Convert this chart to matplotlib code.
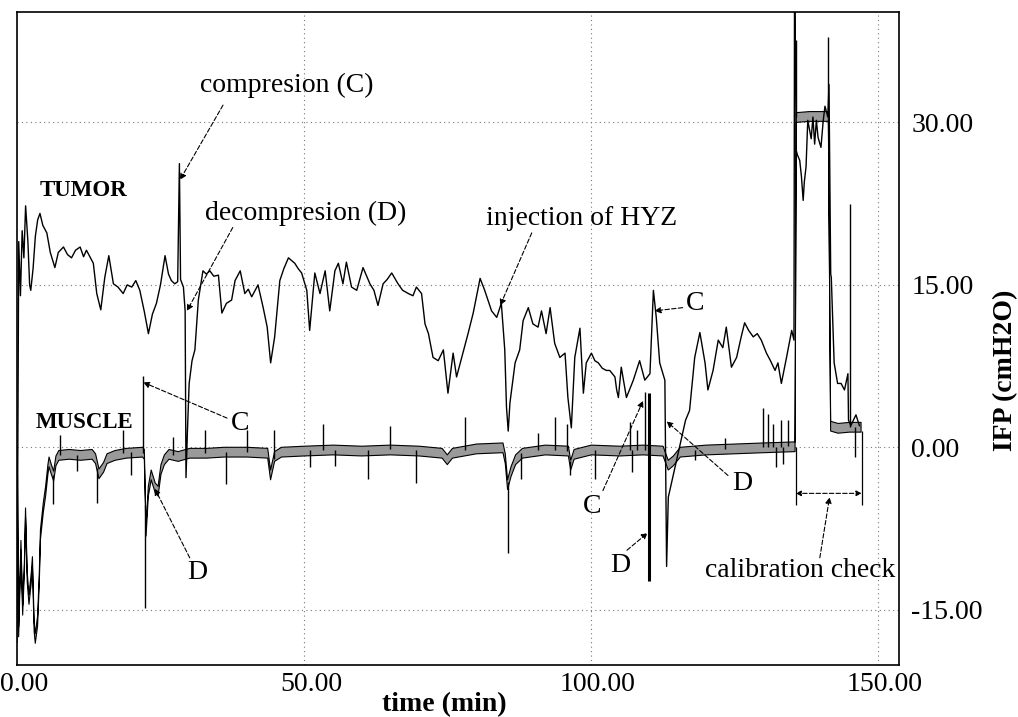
import numpy as np
import matplotlib
matplotlib.use("Agg")
import matplotlib.pyplot as plt
from matplotlib.transforms import ScaledTranslation

plt.rcParams['font.family'] = ['Liberation Serif', 'DejaVu Serif']

# tumor IFP trace (time in min, value in cmH2O)
tumor_t = [0.0, 0.3, 0.6, 0.9, 1.2, 1.5, 1.9, 2.2, 2.4, 2.8, 3.2, 3.6, 4.0, 4.5, 5.2,
           5.8, 6.6, 7.2, 8.1, 8.8, 9.5, 10.2, 11.0, 11.6, 12.1, 12.7, 13.3, 13.9, 14.6,
           15.3, 16.0, 16.8, 17.6, 18.5, 19.2, 20.0, 20.7, 21.4, 22.2, 22.9, 23.6, 24.3,
           25.0, 25.8, 26.4, 26.9, 27.5, 28.0, 28.3, 28.5, 29.0, 29.3, 29.45, 29.7, 30.0,
           30.5, 31.0, 31.6, 32.4, 33.0, 33.6, 34.3, 35.1, 35.7, 36.5, 37.4, 38.0, 38.9,
           39.7, 40.3, 40.9, 41.5, 42.0, 42.9, 43.6, 44.2, 44.9, 45.8, 46.5, 47.3, 48.4,
           49.0, 49.6, 50.5, 51.0, 51.9, 52.8, 53.7, 54.5, 55.4, 56.0, 56.8, 57.4, 58.3,
           59.2, 60.3, 61.5, 62.2, 62.9, 63.8, 64.5, 65.3, 66.4, 67.2, 68.2, 69.0, 69.6,
           70.5, 71.1, 71.7, 72.5, 73.4, 74.3, 75.1, 76.0, 76.6, 77.5, 78.6, 79.5, 80.7,
           81.5, 82.7, 83.6, 84.4, 85.0, 85.3, 85.6, 85.9, 86.8, 87.6, 88.2, 89.1, 89.9,
           90.8, 91.4, 92.2, 92.9, 93.7, 94.6, 95.5, 96.0, 96.6, 97.2, 98.1, 98.7, 99.2,
           100.1, 100.7, 101.3, 102.0, 102.7, 103.3, 104.2, 104.5, 104.8, 105.3, 106.2,
           107.4, 108.5, 109.4, 110.3, 110.9, 111.4, 112.0, 112.9, 113.2, 113.5, 114.6,
           115.6, 116.5, 117.2, 118.1, 119.0, 119.9, 120.4, 121.3, 122.2, 123.0, 123.6,
           124.5, 125.4, 126.2, 126.8, 127.5, 128.3, 129.0, 129.7, 130.6, 131.3, 132.1,
           132.6, 133.2, 134.1, 135.0, 135.4, 135.5, 135.8, 136.0, 136.4, 136.7, 137.0,
           137.2, 137.5, 137.8, 138.4, 138.7, 139.0, 139.3, 139.6, 140.1, 140.5, 140.8,
           141.3, 141.5, 141.8, 141.9, 142.1, 142.4, 143.0, 143.6, 144.2, 144.8, 144.9,
           145.3, 146.2, 146.8]
tumor_v = [-18.0, 19.0, 14.0, 20.0, 17.5, 22.3, 19.0, 15.0, 14.5, 16.5, 19.5, 21.0, 21.6, 20.5, 19.8,
           18.0, 16.6, 18.0, 18.5, 17.8, 17.5, 18.2, 18.5, 17.6, 18.2, 17.6, 17.0, 14.2, 12.7,
           15.7, 17.7, 15.1, 14.8, 14.2, 15.0, 14.8, 15.4, 14.5, 12.5, 10.5, 12.3, 13.3,
           15.0, 17.7, 16.0, 15.4, 15.1, 15.3, 26.2, 15.5, 14.8, 12.6, -2.8, 1.5, 5.9,
           8.0, 9.0, 13.6, 16.3, 16.0, 16.3, 15.8, 15.9, 12.4, 13.3, 13.6, 15.4, 16.3,
           14.2, 14.6, 13.9, 14.5, 15.0, 12.9, 11.1, 7.8, 10.2, 15.4, 16.5, 17.5, 17.0,
           16.5, 16.1, 14.5, 10.8, 16.1, 14.2, 16.3, 12.6, 16.3, 17.0, 15.1, 17.1, 14.8,
           14.5, 16.6, 15.1, 14.5, 13.1, 15.1, 15.5, 16.1, 15.1, 14.5, 14.2, 14.0, 14.8,
           14.2, 11.4, 10.5, 8.3, 8.0, 9.0, 5.0, 8.7, 6.5, 8.3, 10.5, 12.4, 15.6,
           14.5, 12.6, 12.0, 13.3, 9.0, 3.7, 1.5, 4.1, 7.8, 9.0, 11.7, 12.9, 11.4,
           11.1, 12.6, 10.5, 12.9, 9.6, 8.3, 8.7, 4.6, 1.8, 8.3, 11.0, 5.0, 7.8,
           8.7, 8.0, 7.8, 7.3, 7.1, 7.1, 6.5, 5.3, 4.6, 7.4, 4.6,
           6.2, 8.0, 6.2, 6.8, 14.5, 12.0, 7.8, 6.2, -11.0, -4.6, -2.0,
           0.4, 2.5, 3.4, 8.3, 10.6, 7.8, 5.3, 7.1, 9.9, 9.2, 11.1,
           7.4, 8.3, 10.2, 11.5, 10.8, 10.2, 10.5, 9.9, 8.7, 8.0, 7.1,
           7.8, 5.9, 8.3, 10.8, 9.9, 45.0, 27.4, 27.0, 26.5, 25.0, 22.8,
           24.5, 25.9, 30.2, 28.5, 30.5, 28.0, 30.2, 28.6, 27.7, 30.2, 31.5,
           30.5, 33.5, 16.0, 15.7, 12.6, 7.8, 5.9, 5.9, 5.3, 6.8, 2.5,
           2.0, 3.0, 2.0]

# muscle IFP: middle of the grey band
muscle_t = [0.0, 0.2, 0.6, 0.9, 1.2, 1.4, 1.7, 2.0, 2.4, 2.6, 2.9, 3.1, 3.5, 3.8, 4.0,
            4.5, 4.9, 5.3, 5.5, 5.9, 6.3, 6.7, 7.2, 9.0, 11.0, 13.0, 13.6, 14.2, 15.0,
            15.6, 17.0, 19.0, 21.8, 22.1, 22.4, 22.8, 23.3, 24.0, 24.5, 25.0, 25.6, 26.4,
            28.0, 30.0, 33.0, 36.0, 40.0, 43.6, 44.1, 44.8, 46.0, 50.0, 55.0, 60.0, 65.0,
            70.0, 74.0, 74.9, 75.8, 80.0, 84.6, 85.0, 85.4, 86.0, 86.8, 88.0, 92.0, 96.0,
            96.4, 97.0, 100.0, 105.0, 109.0, 112.5, 113.4, 114.3, 115.5, 120.0, 125.0,
            130.0, 135.5, 135.7, 138.0, 141.3, 141.7, 143.0, 145.0, 147.0]
muscle_v = [-3.0, -17.0, -9.0, -15.0, -11.0, -6.0, -12.0, -14.0, -12.0, -10.5, -16.5, -17.6, -16.0, -12.0, -8.0,
            -5.5, -4.0, -2.0, -1.3, -2.0, -2.6, -1.2, -0.7, -0.6, -0.7, -0.6, -1.0, -2.4, -1.8,
            -1.0, -0.7, -0.5, -0.4, -0.6, -7.7, -4.0, -2.5, -3.7, -4.0, -2.0, -1.1, -0.6,
            -0.8, -0.5, -0.5, -0.4, -0.4, -0.5, -2.5, -0.8, -0.4, -0.3, -0.2, -0.3, -0.2,
            -0.3, -0.5, -1.1, -0.5, -0.1, 0.0, -1.0, -3.4, -2.2, -1.1, -0.5, -0.2, -0.3,
            -1.6, -0.6, -0.2, -0.3, -0.2, -0.3, -1.6, -1.2, -0.4, -0.2, -0.1,
            0.0, 0.1, 30.5, 30.6, 30.6, 2.0, 1.8, 1.9, 1.9]

# short spikes on the muscle trace (time, peak value)
spike_t = [7.5, 18.5, 27.2, 32.8, 40.0, 44.7, 53.4, 65.0, 78.0, 90.8, 93.7, 95.8,
           106.8, 108.0, 109.4, 123.3, 130.0, 130.9, 131.8, 133.1, 134.4, 22.0,
           6.3, 10.4, 14.0, 19.9, 22.3, 36.5, 51.0, 55.4, 61.2, 69.6, 85.5, 87.9,
           96.3, 100.7, 107.2, 118.1, 132.3, 133.4, 146.0, 145.1, 135.7, 141.3]
spike_v = [1.1, 1.6, 1.0, 1.6, 1.6, 1.6, 2.2, 2.0, 2.8, 1.3, 2.8, 2.2,
           2.3, 1.6, 5.1, 0.9, 3.6, 3.1, 2.2, 2.5, 2.5, 6.6,
           -5.2, -2.2, -5.1, -2.6, -14.8, -3.4, -1.8, -1.7, -2.9, -3.3, -9.8, -2.9,
           -2.6, -2.9, -2.3, -1.2, -1.8, -1.5, -0.9, 22.5, 37.6, 37.9]
# the thick decompression spike at ~110 min
dspike_t = [110.2]
dspike_lo = [-12.3]
dspike_hi = [5.0]

xticks = [0, 50, 100, 150]
yticks = [-15, 0, 15, 30]

fig = plt.figure(figsize=(10.18, 7.17), dpi=100)
ax = fig.add_axes([17 / 1018, 1 - 665 / 717, 882 / 1018, 653 / 717])
ax.set_xlim(0, 153.7)
ax.set_ylim(-20.1, 40.2)

for g in xticks[1:]:
    ax.axvline(g, color='#777777', lw=0.8, ls=(0, (1, 3)), zorder=0)
for g in yticks:
    ax.axhline(g, color='#777777', lw=0.8, ls=(0, (1, 3)), zorder=0)

# muscle: grey band with black edges
mt = np.array(muscle_t)
mv = np.array(muscle_v)
w = 0.45
ax.fill_between(mt, mv - w, mv + w, facecolor='#9a9a9a', edgecolor='black', lw=0.8, zorder=2)
base = np.interp(spike_t, mt, mv)
ax.vlines(spike_t, base, spike_v, color='black', lw=1.0, zorder=2)
ax.vlines(dspike_t, dspike_lo, dspike_hi, color='black', lw=2.2, zorder=2)

# tumor
ax.plot(tumor_t, tumor_v, color='black', lw=1.0, zorder=3)

# text and arrows
txt = dict(fontsize=20, ha='center', va='center')
arr = dict(arrowstyle='-|>', lw=0.8, ls=(0, (4, 2)), color='black', mutation_scale=9,
           shrinkA=0, shrinkB=0)
ax.text(47.0, 33.4, 'compresion (C)', **txt)
ax.annotate('', xy=(28.4, 24.7), xytext=(35.9, 31.6), arrowprops=arr)
ax.text(50.3, 21.6, 'decompresion (D)', **txt)
ax.annotate('', xy=(29.6, 12.6), xytext=(37.6, 20.3), arrowprops=arr)
ax.text(98.4, 21.1, 'injection of HYZ', **txt)
ax.annotate('', xy=(84.2, 13.1), xytext=(89.7, 19.8), arrowprops=arr)
ax.text(11.5, 23.7, 'TUMOR', fontsize=16.5, fontweight='bold', ha='center', va='center')
ax.text(11.7, 2.3, 'MUSCLE', fontsize=16.5, fontweight='bold', ha='center', va='center')
ax.text(38.9, 2.2, 'C', **txt)
ax.annotate('', xy=(22.0, 6.0), xytext=(36.6, 2.7), arrowprops=arr)
ax.text(31.5, -11.6, 'D', **txt)
ax.annotate('', xy=(24.0, -3.8), xytext=(30.1, -10.2), arrowprops=arr)
ax.text(100.3, -5.5, 'C', **txt)
ax.annotate('', xy=(109.1, 4.3), xytext=(102.1, -4.0), arrowprops=arr)
ax.text(105.1, -10.9, 'D', **txt)
ax.annotate('', xy=(109.9, -7.9), xytext=(106.3, -9.5), arrowprops=arr)
ax.text(118.1, 13.3, 'C', **txt)
ax.annotate('', xy=(111.1, 12.6), xytext=(116.0, 12.9), arrowprops=arr)
ax.text(126.3, -3.3, 'D', **txt)
ax.annotate('', xy=(113.2, 2.4), xytext=(123.9, -2.6), arrowprops=arr)
ax.text(136.4, -11.4, 'calibration check', **txt)
ax.annotate('', xy=(141.6, -4.6), xytext=(139.9, -10.2), arrowprops=arr)

# calibration bracket
ax.vlines([135.7, 147.2], [0.0, 1.5], [-5.3, -5.3], color='black', lw=0.9)
ax.annotate('', xy=(135.7, -4.25), xytext=(147.2, -4.25),
            arrowprops=dict(arrowstyle='<|-|>', lw=0.8, ls=(0, (4, 2)), color='black',
                            mutation_scale=8, shrinkA=0, shrinkB=0))

ax.set_xticks(xticks)
ax.set_xticklabels(['%.2f' % v for v in xticks])
ax.set_yticks(yticks)
ax.set_yticklabels(['%.2f' % v for v in yticks])
ax.yaxis.tick_right()
ax.tick_params(axis='x', length=0, labelsize=20, pad=5)
ax.tick_params(axis='y', length=0, labelsize=20, pad=9)
for lab in ax.get_xticklabels():
    lab.set_transform(lab.get_transform() + ScaledTranslation(0.07, 0, fig.dpi_scale_trans))
for s in ax.spines.values():
    s.set_linewidth(1.2)

fig.text(0.436, 0.017, 'time (min)', fontsize=20, fontweight='bold', ha='center', va='center')
fig.text(0.988, 0.484, 'IFP (cmH2O)', fontsize=20, fontweight='bold', rotation=90,
         ha='center', va='center')

fig.savefig('out.png', dpi=100)
